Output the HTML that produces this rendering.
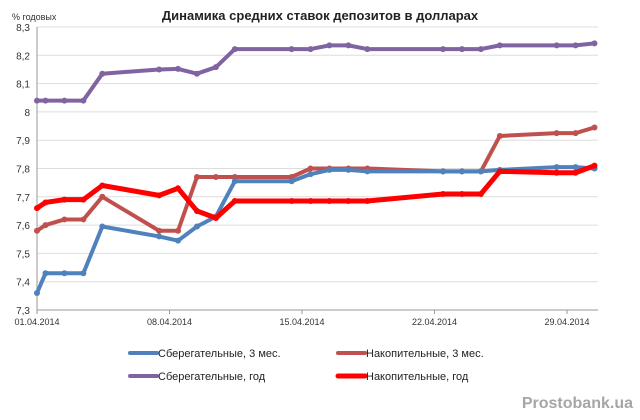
<!DOCTYPE html>
<html><head><meta charset="utf-8"><style>
body{margin:0;background:#fff;}
svg{display:block;font-family:"Liberation Sans",sans-serif;}
</style></head><body>
<svg id="c" width="640" height="420">
<text x="320" y="20" text-anchor="middle" font-size="13" font-weight="bold" fill="#222">Динамика средних ставок депозитов в долларах</text>
<text x="12" y="20" font-size="9" fill="#333">% годовых</text>
<g id="grid"></g><g id="ser"></g>
<g font-size="11" fill="#222">
 <g><line x1="130" y1="353" x2="157" y2="353" stroke="#4f81bd" stroke-width="4" stroke-linecap="round"/><text x="158" y="357">Сберегательные, 3 мес.</text></g>
 <g><line x1="338" y1="353" x2="365" y2="353" stroke="#c0504d" stroke-width="4" stroke-linecap="round"/><text x="366" y="357">Накопительные, 3 мес.</text></g>
 <g><line x1="130" y1="376" x2="157" y2="376" stroke="#8064a2" stroke-width="4" stroke-linecap="round"/><text x="158" y="380">Сберегательные, год</text></g>
 <g><line x1="338" y1="376" x2="365" y2="376" stroke="#ff0000" stroke-width="5" stroke-linecap="round"/><text x="366" y="380">Накопительные, год</text></g>
</g>
<text x="633" y="408" text-anchor="end" font-size="16" font-weight="bold" fill="#a6a6a6">Prostobank.ua</text>
</svg>
<script>
const days=[0,0.45,1.45,2.45,3.45,6.45,7.45,8.45,9.45,10.45,13.45,14.45,15.45,16.45,17.45,21.45,22.45,23.45,24.45,27.45,28.45,29.45];
const savings3m=[7.36,7.43,7.43,7.43,7.595,7.56,7.545,7.595,7.63,7.755,7.755,7.78,7.795,7.795,7.79,7.79,7.79,7.79,7.795,7.805,7.805,7.8];
const accum3m=[7.58,7.6,7.62,7.62,7.70,7.58,7.58,7.77,7.77,7.77,7.77,7.8,7.8,7.8,7.8,7.79,7.79,7.79,7.915,7.925,7.925,7.945];
const savingsYear=[8.04,8.04,8.04,8.04,8.135,8.15,8.152,8.135,8.158,8.222,8.222,8.222,8.235,8.235,8.222,8.222,8.222,8.222,8.235,8.235,8.235,8.242];
const accumYear=[7.66,7.68,7.69,7.69,7.74,7.705,7.73,7.65,7.625,7.685,7.685,7.685,7.685,7.685,7.685,7.71,7.71,7.71,7.79,7.785,7.785,7.81];
const yTicks=[7.3,7.4,7.5,7.6,7.7,7.8,7.9,8,8.1,8.2,8.3];
const yTickLabels=["7,3","7,4","7,5","7,6","7,7","7,8","7,9","8","8,1","8,2","8,3"];
const xTickDays=[0,7,14,21,28];
const xTickLabels=["01.04.2014","08.04.2014","15.04.2014","22.04.2014","29.04.2014"];
const NS="http://www.w3.org/2000/svg";
const X=d=>37+d*18.93, Y=v=>310-(v-7.3)*283;
const grid=document.getElementById('grid'), ser=document.getElementById('ser');
function mk(tag,a,p){const e=document.createElementNS(NS,tag);for(const k in a)e.setAttribute(k,a[k]);p.appendChild(e);return e;}
yTicks.forEach((t,i)=>{
 const l=mk('line',{x1:37,x2:598,y1:Y(t),y2:Y(t),stroke:i==0?'#999':'#ddd','stroke-width':1},grid);
 
 
 const tx=mk('text',{x:30,y:Y(t)+4,'text-anchor':'end','font-size':10,fill:'#333'},grid);tx.textContent=yTickLabels[i];
 
 
});
const ax=mk('line',{x1:37,x2:37,y1:Y(8.3),y2:310,stroke:'#999'},grid);


xTickDays.forEach((d,i)=>{
 mk('line',{x1:X(d),x2:X(d),y1:310,y2:314,stroke:'#999'},grid);
 const tx=mk('text',{x:X(d),y:325,'text-anchor':'middle','font-size':9,fill:'#333'},grid);tx.textContent=xTickLabels[i];
 
 
});
const series=[[savingsYear,'#8064a2',4,'series-savings-year'],[accum3m,'#c0504d',4,'series-accum-3m'],[savings3m,'#4f81bd',4,'series-savings-3m'],[accumYear,'#ff0000',5,'series-accum-year']];
series.forEach(([vals,c,w,n])=>{
 const g=mk('g',{},ser);
 
 
 const pl=mk('polyline',{points:vals.map((v,i)=>X(days[i])+','+Y(v)).join(' '),fill:'none',stroke:c,'stroke-width':w,'stroke-linejoin':'round'},g);
 
 
 vals.forEach((v,i)=>{const p=mk('circle',{cx:X(days[i]),cy:Y(v),r:3,fill:c},g);
  
  });
});
</script>
</body></html>
